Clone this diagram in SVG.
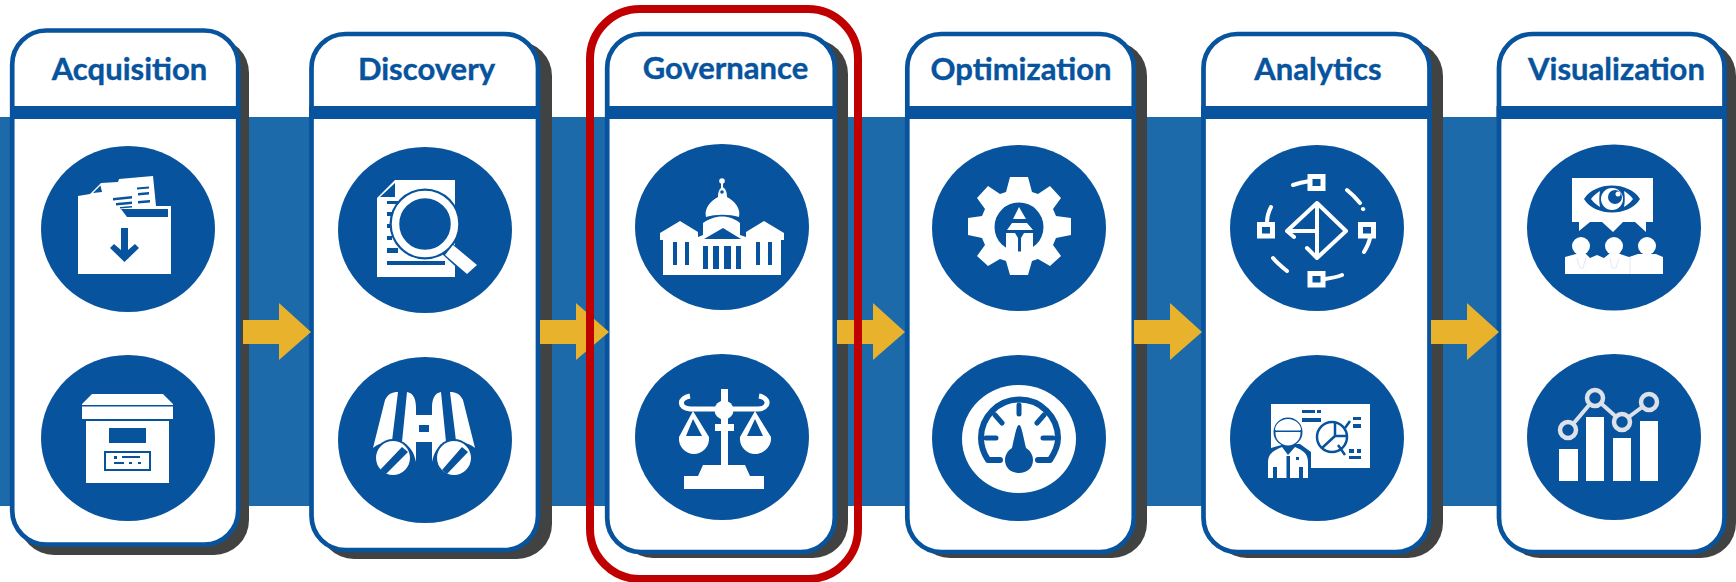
<svg xmlns="http://www.w3.org/2000/svg" width="1736" height="582" viewBox="0 0 1736 582">
<style>
.b{fill:#1c6aa9}.s{fill:#414342}.c{fill:#fff;stroke:#07539d;stroke-width:4.700}.h{fill:#07539d}.d{fill:#07539d}
.t{font-family:Lato,"Liberation Sans",sans-serif;font-weight:700;font-size:31px;fill:#07539d;stroke:#07539d;stroke-width:.4;text-anchor:middle}
.w{fill:#fff}.l{fill:none;stroke:#fff;stroke-width:4;stroke-linecap:round}.n{fill:none;stroke:#07539d;stroke-width:2}
.q{fill:none;stroke:#fff;stroke-width:5}
.a{fill:#e8b22d}
</style>
<rect width="1736" height="582" fill="#fff"/>
<rect class="b" y="117" width="1736" height="389"/>
<g id="acquisition">
<rect class="s" x="19" y="38" width="230" height="517" rx="35"/>
<rect class="c" x="12.200" y="30.500" width="226" height="514" rx="34"/>
<rect class="h" x="10" y="106" width="230.500" height="13"/>
<text class="t" x="129.500" y="80">Acquisition</text>
<ellipse class="d" cx="128" cy="229" rx="87" ry="83"/>
<ellipse class="d" cx="128" cy="438" rx="87" ry="83"/>
<path class="w" d="M78 196L90 194L101 183L118 182L119 179L153 176L156 206L171 206V274H78Z"/>
<path class="d" d="M121 209H168V217H127ZM113 198L132 196V198.500L113 200.500ZM116 203L132 201.500V204L116 205.500ZM120 207L132 206V207.500L120 208.500ZM137 187.500L149 186.500V188.500L137 189.500ZM138 193L149 192V194.500L138 195.500ZM138 201L150 200V202.500L138 203.500ZM93 193L100.500 185.500L102 192Z"/>
<path class="d" d="M121 228H128V250L135 244L139 248L124.500 262L110 248L114 244L121 250Z"/>
<path class="w" d="M82 404L92 394H163L173 404V419H82ZM86 421H169V483H86Z"/>
<path class="d" d="M82 405H173V406.500H82ZM109 428H146V443H109Z"/>
<rect class="n" x="105" y="452" width="45" height="18"/>
<path class="d" d="M114 456h3v3h-3zM122 456h18v2h-18zM114 462h10v2h-10zM129 462h3v2h-3zM138 462h3v2h-3z"/>
</g>
<g id="discovery">
<rect class="s" x="319" y="41" width="233" height="518" rx="35"/>
<rect class="c" x="311.500" y="34" width="226.500" height="516" rx="34"/>
<rect class="h" x="309" y="106" width="231" height="13"/>
<text class="t" x="426.500" y="80">Discovery</text>
<ellipse class="d" cx="425" cy="230" rx="87" ry="83"/>
<ellipse class="d" cx="425" cy="440" rx="87" ry="83"/>
<path class="w" d="M377 198L395 180H455V277H377Z"/>
<path class="d" d="M380 197L395 183V197Z"/>
<path class="d" d="M387 201H398V204H387ZM387 212H395V216H387ZM387 224H392V228H387ZM387 236H392V240H387ZM387 248H398V253H387ZM387 261H445V265H387Z"/>
<circle class="d" cx="425" cy="224" r="35.500"/>
<path class="d" d="M452 243L480 265L467 277L442 254Z"/>
<circle cx="425" cy="224" r="29.500" fill="none" stroke="#fff" stroke-width="7.500"/>
<path class="w" d="M453 245L477 265L467 274L445 255Z"/>
<path class="w" d="M373 448L385 400C388 394 392 392 398 392L392 441C384 442 378 444 373 448ZM407 392C414 393 416 400 416 408V462C414 452 410 446 402 442Z"/>
<circle class="d" cx="393" cy="458" r="19"/>
<circle class="w" cx="393" cy="458" r="17"/>
<path class="d" d="M380 470L402 447L408 452L386 474Z"/>
<path class="w" d="M475 448L463 400C460 394 456 392 450 392L456 441C464 442 470 444 475 448ZM441 392C434 393 432 400 432 408V462C434 452 438 446 446 442Z"/>
<circle class="d" cx="454" cy="458" r="19"/>
<circle class="w" cx="454" cy="458" r="17"/>
<path class="d" d="M442 470L462 447L468 452L447 474Z"/>
<path class="w" d="M416 415H432V442H416Z"/>
<path class="d" d="M419 425H429V432H419Z"/>
</g>
<g id="governance">
<rect class="s" x="618" y="39" width="230" height="519" rx="35"/>
<rect class="c" x="607.200" y="34" width="227.600" height="518" rx="34"/>
<rect class="h" x="605" y="106" width="232" height="13"/>
<text class="t" x="725.500" y="79">Governance</text>
<ellipse class="d" cx="722" cy="227" rx="87" ry="83"/>
<ellipse class="d" cx="722" cy="437" rx="87" ry="83"/>
<circle class="w" cx="722" cy="181" r="2.800"/>
<rect class="w" x="721" y="182" width="2" height="8"/>
<path class="w" d="M718 197C718 191 720 188 722.500 187C725 188 727 191 727 197C735 201 741 209 739 217C729 214 716 214 706 217C704 209 710 201 718 197Z"/>
<path class="w" d="M663 275V240H660V233L680 221L698 232V237L703 235V223C709 219 715 216.500 722 216.500C729 216.500 735 219 740 223V235L746 237V232L764 221L784 233V240H781V275Z"/>
<path class="d" d="M673 242H677V265H673ZM685 242H689V265H685ZM703 246H708V269H703ZM713 246H719V269H713ZM724 246H731V269H724ZM736 246H741V269H736ZM756 242H760V265H756ZM768 242H772V265H768ZM704 239L723 228L741 239Z"/>
<circle class="d" cx="722" cy="192" r="1.800"/>
<path d="M690 396C679 398 678 408 690 409H758C770 408 770 398 759 396" fill="none" stroke="#fff" stroke-width="5"/>
<rect class="w" x="721" y="389" width="7" height="78"/>
<circle class="w" cx="724" cy="410" r="9.500"/>
<rect class="w" x="715" y="424" width="19" height="7"/>
<path class="w" d="M703 465H745L750 476H764V489H684V476H698Z"/>
<path class="w" d="M693 411L709 437C710 447 702 454 694 454C686 454 678 447 679 437ZM693 419L686 436H702Z" fill-rule="evenodd"/>
<path class="w" d="M755 411L771 437C772 447 763 454 755 454C747 454 739 447 740 437ZM755 419L747 436H763Z" fill-rule="evenodd"/>
</g>
<g id="optimization">
<rect class="s" x="915" y="41" width="232" height="517" rx="35"/>
<rect class="c" x="907.300" y="34" width="226.500" height="518" rx="34"/>
<rect class="h" x="905" y="106" width="231" height="13"/>
<text class="t" x="1021" y="80">Optimization</text>
<ellipse class="d" cx="1019" cy="228" rx="87" ry="83"/>
<ellipse class="d" cx="1019" cy="438" rx="87" ry="83"/>
<path class="w" d="M1010 177H1028L1032 192L1038 194L1050 186L1061 198L1053 209L1056 216L1071 218V235L1056 238L1053 245L1061 256L1050 266L1038 259L1032 261L1028 275H1010L1006 261L1000 259L988 266L977 256L985 245L982 238L968 235V218L982 216L985 209L977 198L988 186L1000 194L1006 192Z"/>
<circle class="d" cx="1019" cy="227" r="24.500"/>
<path class="w" d="M1019 207L1026 219H1013ZM1012 223H1027L1033 230H1007ZM1006 233H1015L1018 238V252H1006ZM1033 233H1024L1021 238V252H1033Z"/>
<ellipse class="w" cx="1019" cy="439" rx="57" ry="54"/>
<path d="M1000 460H988C982 451 981 445 981 438A38 38 0 0 1 1058 438C1058 445 1056 451 1050 460H1038" fill="none" stroke="#07539d" stroke-width="6" stroke-linecap="round" stroke-linejoin="round"/>
<path d="M1019 405V414M995 415L1002 423M1044 415L1037 423M986 438H996M1043 438H1053" fill="none" stroke="#07539d" stroke-width="5" stroke-linecap="round"/>
<path class="d" d="M1019 425C1021 425 1022 430 1026 448C1031 451 1033 456 1033 460C1033 468 1027 473 1019 473C1011 473 1005 468 1005 460C1005 456 1007 451 1012 448C1016 430 1017 425 1019 425Z"/>
</g>
<g id="analytics">
<rect class="s" x="1212" y="41" width="231" height="517" rx="35"/>
<rect class="c" x="1203.500" y="34" width="226" height="518" rx="34"/>
<rect class="h" x="1201" y="106" width="231" height="13"/>
<text class="t" x="1318" y="80">Analytics</text>
<ellipse class="d" cx="1317" cy="228" rx="87" ry="83"/>
<ellipse class="d" cx="1317" cy="438" rx="87" ry="83"/>
<path d="M1294 237L1287 231L1317 203L1346 231L1317 258L1307 248M1317 203V258M1287 231H1317" fill="none" stroke="#fff" stroke-width="4" stroke-linecap="round" stroke-linejoin="round"/>
<path class="l" d="M1293 185C1299 183 1304 182 1310 181M1347 190C1352 194 1356 198 1360 203M1363 209L1363.200 209.200M1370 238C1369 243 1367 247 1364 252M1273 258C1277 263 1282 267 1287 271M1325 279C1332 278 1337 277 1342 275M1267 222C1267 216 1269 211 1271 207"/>
<rect class="q" x="1310" y="176.500" width="13" height="12"/>
<rect class="q" x="1360.500" y="224.500" width="13" height="11.500"/>
<rect class="q" x="1259.500" y="224.500" width="13" height="11.500"/>
<rect class="q" x="1310" y="273.500" width="13" height="11.500"/>
<rect class="w" x="1271" y="404" width="99" height="64"/>
<path class="d" d="M1302 410H1315V413H1302ZM1317 410H1321V413H1317ZM1302 418H1321V422H1302ZM1353 417H1361V420H1353ZM1353 424H1361V428H1353ZM1349 449H1354V453H1349ZM1357 449H1361V453H1357ZM1349 456H1361V459H1349Z"/>
<circle cx="1332" cy="437" r="15" fill="none" stroke="#07539d" stroke-width="2.500"/>
<path d="M1335 423V436H1348M1335 436L1322 448M1345 428L1350 421M1338 445L1345 455" fill="none" stroke="#07539d" stroke-width="2.500"/>
<path class="d" d="M1265 480V448H1271L1285 444H1300L1311 452V480Z"/>
<path class="w" d="M1268 478V462C1268 453 1275 450 1282 447L1288 455L1295 447C1302 450 1308 453 1308 462V478Z"/>
<path class="d" d="M1273 478V467H1277V478ZM1299 478V467H1303V478ZM1286.500 478V456H1290V478ZM1296 457h3v3h-3z"/>
<circle class="d" cx="1288" cy="432" r="14.500"/>
<circle class="w" cx="1288" cy="433" r="12.500"/>
<path class="w" d="M1275 430C1275 424 1281 419 1288 419C1295 419 1301 424 1301 430Z"/>
<path class="d" d="M1275 430.500H1301V432H1275Z"/>
</g>
<g id="visualization">
<rect class="s" x="1505" y="41" width="231" height="517" rx="35"/>
<rect class="c" x="1499" y="34" width="225.500" height="518" rx="34"/>
<rect class="h" x="1496.500" y="106" width="230" height="13"/>
<text class="t" x="1616.500" y="80">Visualization</text>
<ellipse class="d" cx="1614" cy="227.500" rx="87" ry="83"/>
<ellipse class="d" cx="1614" cy="437" rx="87" ry="83"/>
<path class="w" d="M1572 178H1653V222H1646V232L1635 222H1623L1613 232L1602 222H1590L1579 231V222H1572Z"/>
<path class="d" d="M1584 199C1595 181 1629 181 1640 199C1629 217 1595 217 1584 199Z"/>
<path class="w" d="M1591 199C1594 195 1597 193 1600 191C1599 196 1599 202 1600 207C1597 205 1594 203 1591 199ZM1633 199C1630 203 1627 205 1624 207C1625 202 1625 196 1624 191C1627 193 1630 195 1633 199Z"/>
<circle class="w" cx="1612" cy="199" r="11"/>
<circle class="d" cx="1615" cy="197" r="7"/>
<circle class="w" cx="1618" cy="194" r="2.500"/>
<circle class="w" cx="1581" cy="246" r="9"/><circle class="w" cx="1614" cy="246" r="9"/><circle class="w" cx="1647" cy="246" r="9"/>
<path class="w" d="M1565 274V257L1576 254H1586L1590 258L1597 255L1604 258L1609 254H1620L1629 257L1638 254H1656L1663 257V274Z"/>
<path class="w" d="M1576 252L1581 268L1586 252ZM1609 252L1614 268L1620 252Z"/>
<path d="M1577 258L1580 268H1583L1586 258M1610 258L1612 268H1616L1619 258M1630 257V274" fill="none" stroke="#e6e6f5" stroke-width="1"/>
<rect class="w" x="1559" y="449" width="19" height="32"/><rect class="w" x="1586" y="417" width="18" height="64"/><rect class="w" x="1613" y="438" width="18" height="43"/><rect class="w" x="1640" y="421" width="18" height="60"/>
<path d="M1568 430L1595 398L1622 422L1649 402" fill="none" stroke="#dde2ea" stroke-width="4"/>
<g fill="#07539d" stroke="#dde2ea" stroke-width="4.500"><circle cx="1568" cy="430" r="8"/><circle cx="1595" cy="398" r="8"/><circle cx="1622" cy="422" r="8"/><circle cx="1649" cy="402" r="8"/></g>
</g>
<g id="connectors">
<path id="a1" class="a" d="M243 320H279V303L311 332L279 360V344H243Z"/>
<path id="a2" class="a" d="M540 320H576V303L609 332L576 360V344H540Z"/>
<path id="a3" class="a" d="M837 320H873V303L905 332L873 360V344H837Z"/>
<path id="a4" class="a" d="M1134 320H1170V303L1202 332L1170 360V344H1134Z"/>
<path id="a5" class="a" d="M1431 320H1467V303L1499 332L1467 360V344H1431Z"/>
</g>
<rect id="highlight" x="590" y="9" width="268" height="570" rx="50" fill="none" stroke="#c00000" stroke-width="8"/>
</svg>
